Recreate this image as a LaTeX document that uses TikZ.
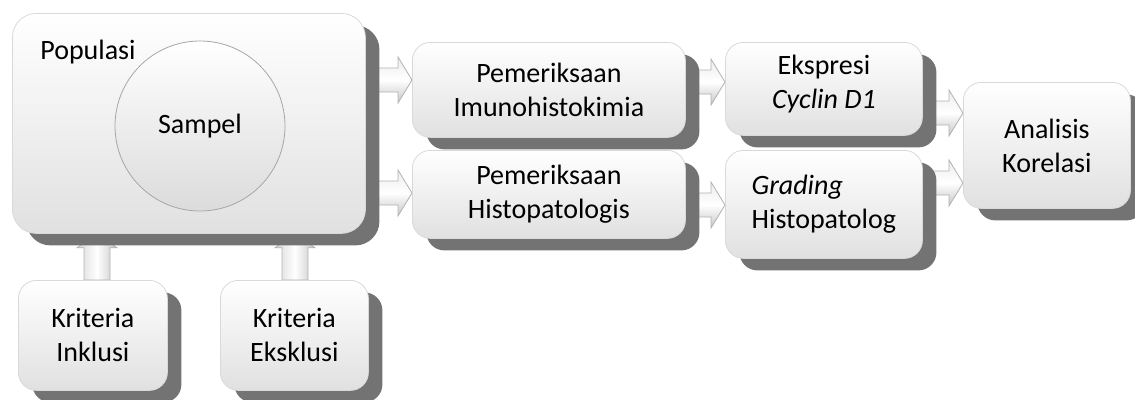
\documentclass[tikz,border=0pt]{standalone}
\usepackage{fontspec}
\setmainfont{Carlito}
\usetikzlibrary{shadows,calc}
\pgfdeclarelayer{bg}
\pgfsetlayers{bg,main}
\tikzset{
  box/.style={rounded corners=18pt, top color=white, bottom color=gray!24, draw=gray!30,
    line width=0.8pt, align=center, anchor=north west, inner sep=0pt,
    font=\fontsize{28}{34}\selectfont, text=black,
    drop shadow={shadow xshift=14pt, shadow yshift=-12pt, fill=black!55, opacity=1}},
  blockarr/.style={top color=gray!15, bottom color=gray!45, middle color=white, draw=gray!60, line width=0.8pt},
  vblockarr/.style={left color=gray!30, right color=gray!45, middle color=white, draw=gray!60, line width=0.8pt},
  lbl/.style={font=\fontsize{28}{34}\selectfont, text=black},
}
% horizontal block arrow: from x of #1 to x of #2 at pixel height #3
\newcommand\harrow[3]{\path[blockarr] let \p1=(#1), \p2=(#2) in
  (\x1,{-#3pt+12pt}) -- ({\x2-14pt},{-#3pt+12pt}) -- ({\x2-14pt},{-#3pt+23pt}) -- (\x2,{-#3pt})
  -- ({\x2-14pt},{-#3pt-23pt}) -- ({\x2-14pt},{-#3pt-12pt}) -- (\x1,{-#3pt-12pt}) -- cycle;}
% vertical block arrow (upwards): from y of #1 to y of #2 at pixel x #3
\newcommand\varrow[3]{\path[vblockarr] let \p1=(#1), \p2=(#2) in
  ({#3pt-13pt},\y1) -- ({#3pt-13pt},{\y2-14pt}) -- ({#3pt-20pt},{\y2-14pt}) -- ({#3pt},\y2)
  -- ({#3pt+20pt},{\y2-14pt}) -- ({#3pt+13pt},{\y2-14pt}) -- ({#3pt+13pt},\y1) -- cycle;}
\begin{document}
\begin{tikzpicture}[x=1pt,y=-1pt]
\useasboundingbox (0,0) rectangle (1135,399);
% boxes
\node[box, rounded corners=24pt, minimum width=353pt, minimum height=220pt] (pop) at (12,13) {};
\node[lbl] (poptxt) at (88,52) {Populasi};
\node[circle, minimum size=170pt, inner sep=0pt, top color=white, bottom color=gray!28,
      draw=gray!70, line width=0.8pt, lbl] (samp) at (200,126) {Sampel};
\node[box, minimum width=273pt, minimum height=95pt] (imu) at (412,42) {};
\node[lbl, align=center] at (imu.center) {Pemeriksaan\\Imunohistokimia};
\node[box, minimum width=273pt, minimum height=88pt] (his) at (412,150) {};
\node[lbl, align=center] at (his.center) {Pemeriksaan\\Histopatologis};
\node[box, minimum width=197pt, minimum height=93pt] (eks) at (725,42) {};
\node[lbl, align=center] at ($(eks.center)+(0,-5)$) {Ekspresi\\\textit{Cyclin D1}};
\node[box, minimum width=197pt, minimum height=108pt] (gra) at (725,150) {};
\node[lbl, align=left] at (gra.center) {\textit{Grading}\\Histopatolog};
\node[box, minimum width=167pt, minimum height=126pt] (ana) at (963,82) {};
\node[lbl, align=center] at (ana.center) {Analisis\\Korelasi};
\node[box, minimum width=149pt, minimum height=110pt] (ink) at (18,280) {};
\node[lbl, align=center] at (ink.center) {Kriteria\\Inklusi};
\node[box, minimum width=148pt, minimum height=110pt] (exk) at (220,280) {};
\node[lbl, align=center] at (exk.center) {Kriteria\\Eksklusi};
% arrows behind
\begin{pgfonlayer}{bg}
\harrow{pop.east}{imu.west}{80}
\harrow{pop.east}{his.west}{193}
\harrow{imu.east}{eks.west}{82}
\harrow{his.east}{gra.west}{205}
\harrow{eks.east}{ana.west}{113}
\harrow{gra.east}{ana.west}{183}
\varrow{ink.north}{pop.south}{97}
\varrow{exk.north}{pop.south}{295}
\end{pgfonlayer}
\end{tikzpicture}
\end{document}
